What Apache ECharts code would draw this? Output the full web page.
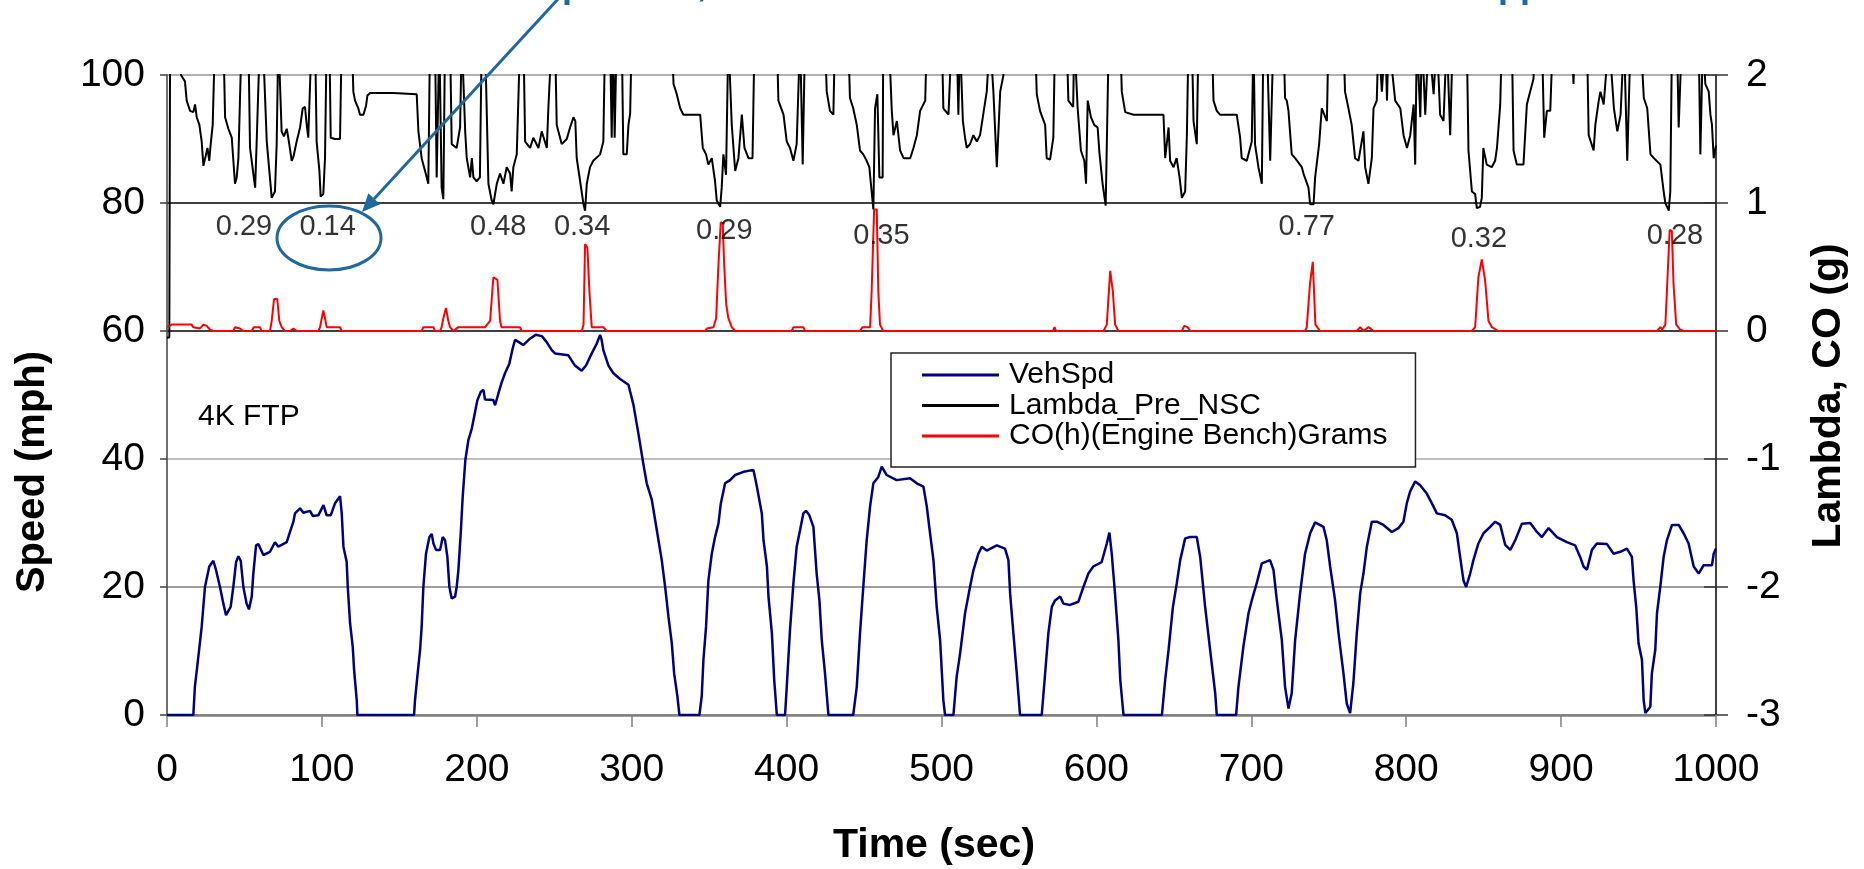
<!DOCTYPE html>
<html><head><meta charset="utf-8">
<script src="https://cdn.jsdelivr.net/npm/echarts@6/dist/echarts.min.js"></script>
<style>html,body{margin:0;padding:0;background:#fff}#c{width:1864px;height:869px}</style>
</head><body><div id="c"></div>
<script>
const F = 'Liberation Sans, Arial, sans-serif';
const seriesNames = ['VehSpd', 'Lambda_Pre_NSC', 'CO(h)(Engine Bench)Grams'];

// VehSpd [time s, mph]
const vehSpd = [[0,0],[17,0],[18,4.4],[20,8.6],[22.4,13.8],[24.5,20],[27.3,23.2],[29.9,24.1],[31.6,22.7],[34.2,20],[36.4,17.4],[38.1,15.6],[41.1,16.9],[42.8,20],[44.6,23.9],[46.1,24.8],[47.6,24.1],[49.3,20],[51.4,17.4],[52.9,16.5],[54.7,18.5],[55.7,22],[57.5,26.5],[59,26.7],[62.2,25],[66.5,25.5],[69.7,27],[71.9,26.3],[77.3,27],[79.4,28.6],[81.6,30.2],[82.6,31.5],[85.9,32.3],[88,31.6],[92.3,31.9],[94.1,31.1],[97.7,31.2],[101,32.8],[103.1,31.2],[105.7,31.2],[108.5,33.1],[111.7,34.2],[112.8,31.5],[113.9,26.3],[116,23.9],[116.7,20],[118.2,14.3],[119.9,10.7],[120.8,7],[122.5,2.3],[122.9,0],
[159.5,0],[160.1,2.3],[161.6,6],[163.4,10.2],[164.4,13.8],[165.5,20],[167.2,25.2],[169.4,27.8],[170.9,28.3],[172,26.8],[173.7,25.8],[176.3,25.8],[178,27.8],[179.5,27.3],[181,24.7],[182.3,20],[183.8,18.2],[186,18.5],[187,20],[188.1,22.6],[189.6,28.3],[190.9,34.1],[192.6,39.8],[194.6,43],[196.8,44.8],[198.9,47.4],[200.4,49.2],[202.6,50.5],[204.3,50.8],[205.3,49.3],[210.7,49.2],[211.8,48.4],[213.9,50.2],[216.1,52],[218.2,53.4],[221,54.9],[223.2,57.3],[224.7,58.6],[226.9,58.3],[230,57.8],[234.3,58.8],[238,59.4],[242,59.2],[245,58.3],[248.4,57],[250.5,56.5],[259.1,56.2],[263.4,54.6],[267.7,53.8],[270.5,54.6],[274.2,56.5],[277.4,58],[279.6,59.4],[280.6,58.6],[281.7,57],[285,54.6],[288.2,53.4],[292.5,52.5],[297.9,51.6],[301.1,48.5],[304.3,44],[307.6,39.1],[309.7,36.2],[313,33.6],[316.2,28.9],[319.4,24.2],[321.6,20],[323.7,15.4],[325.9,11.2],[327.4,6.5],[329.5,2.9],[330.8,0],
[343.7,0],[345.2,2.9],[346.3,8.6],[348,13.8],[349.5,21],[351.7,25.2],[353.8,27.8],[356,29.9],[357.5,33],[360.3,36.2],[363.5,36.7],[366.8,37.5],[372.2,38],[378.6,38.3],[380.8,35.7],[384,31.5],[385.1,27.3],[387.3,23.2],[388.3,18.5],[390.5,12.8],[392,5.5],[393.7,0],
[399,0],[400.1,4.4],[402.2,13.3],[404.4,20.6],[406.5,26.3],[408.7,28.9],[410.8,31.5],[412.5,31.9],[414.7,31.2],[417.3,29.4],[419.4,22.1],[421.2,17.9],[422.7,11.7],[424.8,6.5],[427,0],
[443,0],[445.3,4.4],[447.4,12.8],[449.5,20],[451.7,27.3],[453.9,32.6],[456,36.2],[459.2,37.2],[461.4,38.8],[464.6,37.5],[471,36.7],[479.7,37],[484,36.2],[488.3,35.7],[490.5,32.6],[492.6,28.4],[494.8,24.2],[496.9,16.9],[499.1,11.7],[501.2,2.3],[502.3,0],
[507.7,0],[509.8,6],[512,9.6],[515.2,15.9],[518.4,20],[520.6,22.6],[523.8,25.2],[526,26.3],[529.2,25.7],[535.7,26.5],[541,26],[543.2,24.2],[544.3,19],[546.4,12.8],[548.6,6.5],[550.7,0],
[564.7,0],[566.9,6.5],[569,12.8],[571.2,16.9],[573.3,17.9],[576.6,18.5],[578.7,17.4],[583,17.2],[588.4,17.7],[591.6,20],[594.8,22.1],[598,23.2],[603.4,23.9],[606.7,26.8],[608.4,28.5],[609.9,25.2],[612,19],[614.2,11.7],[615.4,5.5],[617.5,0],
[642.3,0],[644.4,5.5],[646.6,10.2],[649.4,16.9],[651.9,20.6],[654.1,24.2],[657.3,27.6],[660.5,27.8],[664.8,27.8],[667,24.7],[670.2,16.9],[673.4,10.2],[676.7,3.4],[677.7,0],
[690.2,0],[691.7,4.4],[694.9,10.7],[698.2,15.9],[700.3,17.9],[703.5,20.6],[706.8,23.7],[712.1,24.2],[714.3,22.7],[716.5,17.9],[719.7,11.7],[721.8,4.4],[724,1],[726.1,3.4],[728.3,11.7],[731.5,19],[734.7,25.2],[738,28.4],[741.2,30.1],[746.6,29.4],[748.7,27.3],[750.9,23.2],[754.1,17.9],[756.3,12.8],[759.5,6.5],[761.6,1.8],[763.8,0.3],[765.9,5],[768.1,12.8],[770.3,19],[772.4,22.1],[774.6,26.3],[777.8,30.2],[781,30.2],[785.3,29.7],[790.7,28.6],[795,29.2],[798.2,30.2],[800.4,33.1],[802.5,34.9],[805.8,36.5],[809,35.9],[813.3,34.6],[816.5,33.1],[819.8,31.5],[825.1,31.2],[829.4,30.5],[832.7,28.4],[834.8,24.7],[837,21],[838.7,20],[841.3,22.1],[843.4,24.2],[846.6,26.8],[849.9,28.4],[854.2,29.4],[857.4,30.2],[860.7,29.7],[863.9,26.6],[867.2,25.8],[870.4,27.3],[874.7,29.9],[880.1,30],[884.4,28.6],[887.6,27.8],[891.9,29.2],[897.3,27.8],[903.7,27],[909.1,26.5],[912.3,24.7],[914.5,23.2],[916.7,22.7],[919.9,25.8],[923.1,26.8],[929.6,26.7],[933.9,25.2],[938.2,25.5],[942.5,26],[945.7,24.7],[946.8,21],[948.5,16.9],[950,11.2],[952.2,8.6],[953.3,2.3],[954.4,0.3],[957.6,1.3],[958.6,6.5],[960.8,10.2],[961.9,15.9],[964,20],[966.2,24.7],[968.3,27.3],[971.6,29.7],[975.9,29.7],[979.1,28.4],[982.3,26.8],[985.6,23.2],[988.8,22.1],[992,23.4],[997.4,23.4],[998.5,25.2],[1000,26]];

// Lambda_Pre_NSC [time s, lambda]  (values above 2 run off the top of the plot)
const lambdaPre = [[0,-0.05],[1.5,-0.05],[2,2.3],[8.4,2.3],[9,2.0],[11.6,1.95],[12.7,1.8],[14.9,1.72],[17,1.71],[18.1,1.77],[19.2,1.67],[20.9,1.61],[22.4,1.48],[23.5,1.29],[25.2,1.38],[26.1,1.43],[27.3,1.33],[28.2,1.46],[29.5,1.61],[31,2.3],[36.4,2.3],[37.5,1.67],[39.6,1.58],[41.8,1.51],[43.9,1.15],[45,1.2],[46.1,1.35],[48.2,2.3],[52.5,2.3],[53.6,1.43],[56.9,1.12],[57.9,1.48],[60,2.3],[61.8,2.3],[64.4,1.48],[67.6,1.04],[69.7,1.09],[70.8,1.46],[71.9,2.3],[73,2.3],[74,1.56],[75.5,1.52],[77.3,1.58],[78.3,1.51],[80.5,1.33],[81.6,1.36],[83.7,1.48],[85.9,1.59],[87.6,1.74],[89.1,1.75],[90.2,1.61],[91.2,1.51],[93.4,2.3],[95.6,2.3],[96.6,1.48],[98.4,1.25],[99.2,1.05],[100.9,1.07],[102,1.35],[103.1,2.3],[104.8,2.3],[105.7,1.51],[108.5,1.5],[111.7,1.5],[112.8,2.3],[119.3,2.3],[120.3,1.87],[121.4,1.8],[123.5,1.74],[124.6,1.69],[126.8,1.69],[128.5,1.76],[129.4,1.84],[131.1,1.86],[146.1,1.86],[161.2,1.85],[162.3,1.56],[164.4,1.35],[166.6,1.25],[168.7,1.15],[169.8,2.3],[173,2.3],[174.1,1.2],[175.8,2.3],[176.5,2.3],[177.3,1.12],[178.4,1.03],[179.5,2.3],[182.7,2.3],[183.8,1.46],[187,1.43],[189.2,1.59],[190.3,2.3],[191.5,2.3],[192.5,1.56],[193.5,1.35],[195.7,1.2],[196.8,1.35],[197.8,1.2],[199.9,1.17],[202,1.2],[203.2,2.3],[205.3,2.3],[207.5,1.15],[209.6,1.02],[210.7,0.99],[212.9,1.15],[215,1.23],[217.2,1.15],[219.3,1.28],[221.5,1.23],[222.5,1.09],[223.6,1.28],[225.8,1.38],[228,2.3],[230.1,2.3],[231.2,1.48],[234.4,1.43],[236.5,1.51],[239.8,1.43],[241.9,1.56],[245.2,1.43],[246.2,1.74],[248.4,2.3],[250.5,2.3],[251.6,1.61],[254.8,1.46],[258.1,1.5],[260.2,1.59],[262.4,1.67],[263.6,1.64],[264.5,1.35],[266.7,1.17],[268.9,0.99],[269.9,0.94],[271,1.15],[273.1,1.28],[275.2,1.33],[279.6,1.38],[281.7,1.48],[282.8,2.3],[286,2.3],[287.1,1.51],[288,2.3],[289,1.51],[290.3,2.3],[293.6,2.3],[294.6,1.38],[296.8,1.38],[297.9,1.61],[299,1.7],[300,2.3],[325.9,2.3],[327,1.93],[329.1,1.85],[331.3,1.74],[333.4,1.69],[344.2,1.69],[345.9,1.43],[348,1.38],[349.5,1.3],[351.7,1.35],[353.8,1.17],[354.9,1.02],[357.1,0.97],[358.1,1.12],[359.2,1.38],[360.9,1.22],[362.4,2.3],[363.5,2.3],[364.6,1.61],[366.8,1.25],[368.9,1.35],[371.1,1.69],[372.8,1.43],[375.4,1.35],[378,1.35],[379.3,2.3],[393.7,2.3],[394.7,1.8],[398,1.69],[400.1,1.48],[402.2,1.43],[404.4,1.33],[406.5,1.46],[408.7,2.3],[409.5,2.3],[410.4,1.3],[411.9,2.3],[424.8,2.3],[425.9,1.87],[428,1.72],[430.2,1.69],[431.2,2.3],[439.8,2.3],[440.9,1.82],[443,1.74],[445.3,1.61],[447.4,1.41],[449.5,1.38],[451.7,1.33],[453.4,1.28],[454.9,1.09],[456,0.95],[457.1,1.74],[458.6,1.85],[459.9,1.2],[462,1.2],[462.4,2.3],[466,2.3],[467.9,1.72],[469,1.53],[471.2,1.64],[473.3,1.41],[475.5,1.35],[479.8,1.35],[481.9,1.43],[484.1,1.53],[486.2,1.72],[489.5,1.8],[490.5,2.3],[500.2,2.3],[501.2,1.74],[504.5,1.69],[506.6,2.3],[509.8,2.3],[510.9,1.69],[511.9,2.3],[513,2.3],[513.8,1.64],[515.2,1.51],[516.3,1.43],[518.4,1.46],[520.6,1.53],[522.8,1.48],[524.9,1.53],[529.2,1.87],[531.3,2.3],[533.5,1.87],[535.7,1.28],[537.9,1.87],[540,2.0],[542.2,2.3],[560.4,2.3],[561.5,1.85],[563.6,1.72],[566.9,1.61],[567.9,1.35],[570.1,1.34],[572.2,1.51],[573.3,2.3],[580.8,2.3],[581.9,1.8],[585,1.75],[585.7,2.3],[587.9,1.74],[590,1.41],[592.2,1.33],[593.3,1.15],[594.4,1.8],[596.5,1.67],[598.6,1.61],[600.8,1.59],[601.9,1.4],[604,1.15],[606,0.98],[607,0.98],[608,2.3],[615.4,2.3],[616.4,1.87],[618.6,1.71],[624,1.69],[643.3,1.69],[644.4,1.35],[646.6,1.59],[647.6,1.33],[649.8,1.28],[651.8,1.35],[653.7,1.2],[655.2,1.04],[657.3,1.09],[658.4,1.53],[659.5,2.3],[661.6,2.3],[662.7,1.64],[664.8,1.46],[665.9,2.3],[674.5,2.3],[675.6,1.8],[677.7,1.72],[679.8,1.69],[690.6,1.69],[692.8,1.51],[693.8,1.35],[697.1,1.33],[700.3,1.48],[701.4,2.3],[702.4,1.46],[704.6,1.28],[706.8,1.15],[707.8,2.3],[710,2.3],[712.2,1.33],[714.3,2.3],[720.8,2.3],[721.8,1.82],[722.9,1.8],[724,1.72],[726.1,1.38],[728.3,1.35],[732.6,1.28],[733.7,1.23],[736.9,1.12],[738,0.99],[740.2,0.99],[741.2,1.2],[743.8,1.46],[745.5,1.74],[748.8,1.64],[749.8,2.3],[759.5,2.3],[760.5,1.87],[762.7,1.74],[764.8,1.61],[767,1.35],[769.2,1.33],[772.4,1.56],[773.5,1.28],[775.6,1.15],[777.8,1.35],[778.9,1.74],[781,1.8],[782.1,2.3],[784.3,1.87],[786.5,2.3],[787.6,1.8],[788.6,2.3],[792.9,1.8],[796.2,1.74],[798.3,1.53],[800.5,1.43],[802.6,1.53],[804.8,1.77],[805.8,1.3],[806.9,2.3],[809.1,1.67],[810.2,2.3],[812.3,1.69],[814.5,2.3],[817.7,1.85],[819.8,2.3],[821.9,1.69],[824.1,1.64],[826.2,2.3],[828.4,1.53],[830.1,2.3],[839.1,2.3],[840.2,1.41],[842.4,1.09],[844.5,1.07],[845.6,0.96],[847.7,0.97],[848.8,1.04],[849.8,1.43],[852,1.3],[855.2,1.28],[857.4,1.33],[858.6,1.43],[860.7,1.77],[861.8,2.3],[868.2,2.3],[869.3,1.41],[871.4,1.3],[875.7,1.3],[877.9,1.77],[880,1.87],[882.2,1.97],[883,2.3],[887.6,2.3],[889.1,1.51],[890.8,1.72],[893,1.72],[894.7,2.3],[906.9,2.3],[908,1.93],[909,2.3],[916.7,2.3],[917.8,1.53],[921,1.41],[922.1,1.61],[924.3,1.8],[925.4,1.87],[927.5,1.77],[930.9,2.3],[934.1,1.74],[936.3,1.56],[938.4,1.69],[940.6,2.3],[942.7,1.33],[944.9,2.3],[951.3,2.3],[953.4,1.82],[955.6,1.74],[957.7,1.38],[960,1.35],[964.1,1.3],[966.2,1.09],[967.3,1.0],[969.5,0.94],[970.5,1.09],[971.6,2.3],[974.8,2.3],[975.9,1.59],[978,2.3],[988.8,2.3],[989.9,1.38],[991.6,2.3],[993.1,1.93],[995.3,1.87],[996.4,1.69],[997.4,1.61],[998.5,1.35],[1000,1.45]];

// CO(h)(Engine Bench)Grams [time s, g]
const coGrams = [[0,0.03],[3,0.05],[15.9,0.05],[17,0.03],[21.3,0.02],[23.5,0.05],[25.6,0.04],[27.8,0.01],[29.9,0],[42.8,0],[43.9,0.03],[47,0.02],[49.3,0],[54.7,0],[56,0.03],[60,0.03],[61,0],[66.5,0],[67.6,0.08],[69.1,0.25],[71.2,0.25],[72.5,0.08],[74,0.03],[76.2,0],[79.4,0],[81.6,0.02],[83.7,0],[97.7,0],[98.8,0.03],[100.9,0.16],[102,0.1],[103.1,0.03],[111.7,0.03],[112.8,0],[164.4,0],[165.5,0.03],[172,0.03],[173,0],[176.3,0],[177.3,0.03],[178.4,0.1],[180.1,0.18],[181.6,0.08],[182.7,0.03],[184.9,0],[188.1,0.03],[205.3,0.03],[208.6,0.08],[210.7,0.42],[213.3,0.4],[215,0.08],[216,0.03],[227.9,0.03],[229,0],[267.8,0],[268.9,0.05],[269.9,0.68],[271.4,0.65],[272.7,0.31],[274.2,0.03],[281.7,0.03],[283.9,0],[347.4,0],[348.5,0.02],[352.8,0.03],[354.5,0.1],[356,0.52],[357.5,0.85],[358.8,0.84],[359.7,0.52],[361,0.21],[362.4,0.1],[364.6,0.03],[366.8,0],[403.3,0],[404.4,0.03],[410.8,0.03],[411.9,0],[447.4,0],[449,0.03],[453.9,0.03],[454.9,0.31],[456.5,0.95],[458.2,0.95],[459.2,0.31],[460.3,0.05],[462.4,0],[571.9,0],[573,0.03],[574,0],[604.6,0],[606.7,0.05],[608.9,0.47],[610.6,0.31],[612.1,0.05],[614.2,0],[655.2,0],[656.7,0.04],[658.9,0.03],[660.5,0],[734.7,0],[735.8,0.03],[737.9,0.37],[739.7,0.54],[741.4,0.05],[744.4,0],[768.1,0],[770.3,0.03],[772.4,0],[775.7,0.03],[778.9,0],[842.4,0],[844.5,0.03],[846.6,0.42],[848.8,0.56],[849.9,0.56],[851,0.39],[853.1,0.08],[855.3,0.03],[859.5,0],[961.9,0],[964.1,0.03],[965.2,0.01],[967.3,0.05],[968.3,0.31],[970.1,0.79],[971.5,0.78],[972.6,0.36],[974.3,0.05],[976.9,0.01],[979.1,0],[1000,0]];

// CO event annotations: label text, time (s), lambda/CO axis level
const annoText  = ['0.29','0.14','0.48','0.34','0.29','0.35','0.77','0.32','0.28'];
const annoTime  = [49.7, 103.7, 213.8, 268, 359.8, 461.2, 735.8, 846.9, 973.5];
const annoLevel = [0.81, 0.81, 0.81, 0.81, 0.78, 0.745, 0.81, 0.715, 0.74];

const chart = echarts.init(document.getElementById('c'), null, {renderer: 'canvas'});
const blue = '#1f68a0';
const tip = [362, 212], start = [559, -2];
const dx = tip[0]-start[0], dy = tip[1]-start[1], L = Math.hypot(dx, dy);
const ux = dx/L, uy = dy/L, hl = 18, hw = 8;
const bx = tip[0]-ux*hl, by = tip[1]-uy*hl;
const plain = v => String(v);
const capStyle = t => ({text: t, fontFamily: F, fontWeight: 'bold', fontSize: 36, fill: blue,
  align: 'left', verticalAlign: 'bottom', textAlign: 'left', textVerticalAlign: 'bottom'});

chart.setOption({
  animation: false,
  backgroundColor: '#fff',
  grid: {left: 167, right: 148, top: 75, bottom: 154, containLabel: false},
  xAxis: {
    type: 'value', min: 0, max: 1000, interval: 100,
    axisLine: {show: true, lineStyle: {color: '#808080', width: 2.5}},
    axisTick: {show: true, length: 12, lineStyle: {color: '#808080', width: 1.5}},
    axisLabel: {fontFamily: F, fontSize: 39, color: '#000', margin: 36, formatter: plain},
    splitLine: {show: false}
  },
  yAxis: [
    {
      type: 'value', min: 0, max: 100, interval: 20, position: 'left',
      axisLine: {show: true, lineStyle: {color: '#404040', width: 1.5}},
      axisTick: {show: true, length: 7, lineStyle: {color: '#404040', width: 1.5}},
      axisLabel: {fontFamily: F, fontSize: 39, color: '#000', margin: 22, formatter: plain},
      splitLine: {show: true, lineStyle: {color: ['#808080', '#7f7f7f', '#a8a8a8', '#000000', '#000000', '#979797'], width: 1.5}}
    },
    {
      type: 'value', min: -3, max: 2, interval: 1, position: 'right',
      axisLine: {show: true, lineStyle: {color: '#000', width: 1.5}},
      axisTick: {show: true, length: 12, lineStyle: {color: '#333', width: 1.5}},
      axisLabel: {fontFamily: F, fontSize: 39, color: '#000', margin: 30, formatter: plain},
      splitLine: {show: false}
    },
    {
      type: 'value', min: -3, max: 2, interval: 1, position: 'right',
      axisLine: {show: false},
      axisTick: {show: true, inside: true, length: 12, lineStyle: {color: '#333', width: 1.5}},
      axisLabel: {show: false},
      splitLine: {show: false}
    }
  ],
  legend: {
    data: seriesNames,
    orient: 'vertical', left: 891, top: 353,
    icon: 'rect', itemWidth: 77, itemHeight: 3, itemGap: 0.5,
    padding: [7, 28, 16, 31],
    backgroundColor: '#fff', borderColor: '#222', borderWidth: 1.5, borderRadius: 0,
    itemStyle: {borderWidth: 0},
    textStyle: {fontFamily: F, fontSize: 30, color: '#000', lineHeight: 30, padding: [0, 0, 0, 5]}
  },
  series: [
    {name: seriesNames[0], type: 'line', data: vehSpd, xAxisIndex: 0, yAxisIndex: 0,
     showSymbol: false, symbol: 'none', clip: true, z: 2,
     lineStyle: {color: '#000080', width: 2.5}, itemStyle: {color: '#000080'}},
    {name: seriesNames[1], type: 'line', data: lambdaPre, xAxisIndex: 0, yAxisIndex: 1,
     showSymbol: false, symbol: 'none', clip: true, z: 3,
     lineStyle: {color: '#000000', width: 2}, itemStyle: {color: '#000000'}},
    {name: seriesNames[2], type: 'line', data: coGrams, xAxisIndex: 0, yAxisIndex: 1,
     showSymbol: false, symbol: 'none', clip: true, z: 4,
     lineStyle: {color: '#ff0000', width: 2}, itemStyle: {color: '#ff0000'}},
    {name: 'annotations', type: 'scatter', xAxisIndex: 0, yAxisIndex: 1, silent: true, z: 5,
     symbol: 'circle', symbolSize: 1, itemStyle: {color: 'rgba(0,0,0,0)'},
     label: {show: true, position: 'inside', formatter: p => p.name, fontFamily: F, fontSize: 29, color: '#000'},
     data: annoTime.map((t, i) => ({name: annoText[i], value: [t, annoLevel[i]]}))}
  ],
  graphic: [
    {type: 'text', x: 198, y: 417, z: 10, silent: true,
     style: {text: '4K FTP', fontFamily: F, fontSize: 30, fill: '#000', align: 'left', verticalAlign: 'middle', textAlign: 'left', textVerticalAlign: 'middle'}},
    {type: 'text', x: 33, y: 472, rotation: Math.PI/2, z: 10, silent: true,
     style: {text: 'Speed (mph)', fontFamily: F, fontWeight: 'bold', fontSize: 40, fill: '#000', align: 'center', verticalAlign: 'middle', textAlign: 'center', textVerticalAlign: 'middle'}},
    {type: 'text', x: 1829, y: 396, rotation: Math.PI/2, z: 10, silent: true,
     style: {text: 'Lambda, CO (g)', fontFamily: F, fontWeight: 'bold', fontSize: 41, fill: '#000', align: 'center', verticalAlign: 'middle', textAlign: 'center', textVerticalAlign: 'middle'}},
    {type: 'text', x: 934, y: 846, z: 10, silent: true,
     style: {text: 'Time (sec)', fontFamily: F, fontWeight: 'bold', fontSize: 41, fill: '#000', align: 'center', verticalAlign: 'middle', textAlign: 'center', textVerticalAlign: 'middle'}},
    // bottoms of a cut-off slide caption above the chart
    {type: 'text', x: 562, y: 5, z: 10, silent: true, style: capStyle('p')},
    {type: 'text', x: 697, y: 4, z: 10, silent: true, style: capStyle(',')},
    {type: 'text', x: 1498, y: 5, z: 10, silent: true, style: capStyle('pp')},
    {type: 'ellipse', z: 10, silent: true, shape: {cx: 329, cy: 238, rx: 52, ry: 32},
     style: {fill: 'none', stroke: blue, lineWidth: 3}},
    {type: 'line', z: 10, silent: true, shape: {x1: start[0], y1: start[1], x2: bx, y2: by},
     style: {stroke: blue, lineWidth: 3}},
    {type: 'polygon', z: 10, silent: true,
     shape: {points: [tip, [bx + uy*hw, by - ux*hw], [bx - uy*hw, by + ux*hw]]},
     style: {fill: blue}}
  ]
});
</script>
</body></html>
